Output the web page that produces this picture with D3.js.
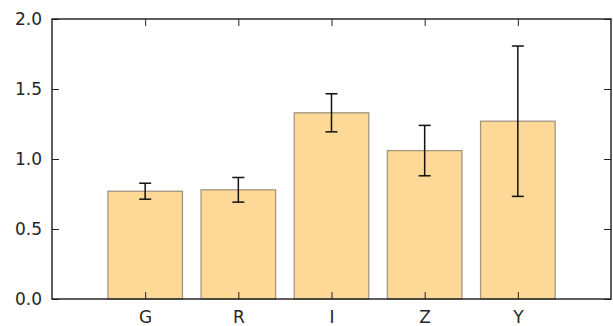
<!DOCTYPE html>
<html>
<head>
<meta charset="utf-8">
<script src="https://cdn.jsdelivr.net/npm/d3@7"></script>
<style>
  html, body { margin: 0; padding: 0; background: #fff; }
  svg { display: block; }
  text { font-family: "DejaVu Sans", sans-serif; fill: #262626; }
</style>
</head>
<body>
<svg id="chart" width="613" height="326"></svg>
<script>
// Filter bands, mean values and their error half-widths
const bands = ["G", "R", "I", "Z", "Y"];
const means = [0.77, 0.78, 1.33, 1.06, 1.27];
const errors = [0.057, 0.088, 0.136, 0.18, 0.537];
const yTicks = [0.0, 0.5, 1.0, 1.5, 2.0];

const W = 613, H = 326;
const plot = { left: 52, top: 19, right: 611, bottom: 299 };

const svg = d3.select("#chart");

// Bars sit at integer positions 0..4 on a [-1, 5] axis
const x = d3.scaleLinear().domain([-1, bands.length]).range([plot.left, plot.right]);
const y = d3.scaleLinear().domain([0, 2]).range([plot.bottom, plot.top]);
const barWidth = 0.8;

const g = svg.append("g");

// Bars
g.selectAll("rect.bar")
  .data(means)
  .enter().append("rect")
  .attr("class", "bar")
  .attr("x", (d, i) => x(i - barWidth / 2))
  .attr("width", (d, i) => x(i + barWidth / 2) - x(i - barWidth / 2))
  .attr("y", d => y(d))
  .attr("height", d => y(0) - y(d))
  .attr("fill", "#fdd897")
  .attr("stroke", "#a39680")
  .attr("stroke-width", 1.3);

// Error bars
const capHalf = 6;
const eb = g.selectAll("g.err")
  .data(means.map((m, i) => ({ m, e: errors[i], i })))
  .enter().append("g").attr("class", "err")
  .attr("stroke", "#111")
  .attr("stroke-width", 1.5);
eb.append("line")
  .attr("x1", d => x(d.i)).attr("x2", d => x(d.i))
  .attr("y1", d => y(d.m - d.e)).attr("y2", d => y(d.m + d.e));
eb.append("line")
  .attr("x1", d => x(d.i) - capHalf).attr("x2", d => x(d.i) + capHalf)
  .attr("y1", d => y(d.m + d.e)).attr("y2", d => y(d.m + d.e));
eb.append("line")
  .attr("x1", d => x(d.i) - capHalf).attr("x2", d => x(d.i) + capHalf)
  .attr("y1", d => y(d.m - d.e)).attr("y2", d => y(d.m - d.e));

// Axes with inward ticks on all four sides
const tickLen = 7;
const fmt = d3.format(".1f");
const xAxisB = d3.axisBottom(x).tickValues(d3.range(bands.length))
  .tickFormat(i => bands[i]).tickSizeInner(-tickLen).tickSizeOuter(0).tickPadding(12);
const xAxisT = d3.axisTop(x).tickValues(d3.range(bands.length))
  .tickFormat("").tickSizeInner(-tickLen).tickSizeOuter(0);
const yAxisL = d3.axisLeft(y).tickValues(yTicks)
  .tickFormat(fmt).tickSizeInner(-tickLen).tickSizeOuter(0).tickPadding(10);
const yAxisR = d3.axisRight(y).tickValues(yTicks)
  .tickFormat("").tickSizeInner(-tickLen).tickSizeOuter(0);

function style(sel) {
  sel.select(".domain").remove();
  sel.selectAll(".tick line").attr("stroke", "#222").attr("stroke-width", 1);
  sel.selectAll(".tick text").style("font-size", "17px").attr("fill", "#262626");
}

svg.append("g").attr("transform", `translate(0,${plot.bottom})`).call(xAxisB).call(style);
svg.append("g").attr("transform", `translate(0,${plot.top})`).call(xAxisT).call(style);
svg.append("g").attr("transform", `translate(${plot.left},0)`).call(yAxisL).call(style);
svg.append("g").attr("transform", `translate(${plot.right},0)`).call(yAxisR).call(style);

// Frame
svg.append("rect")
  .attr("x", plot.left).attr("y", plot.top)
  .attr("width", plot.right - plot.left).attr("height", plot.bottom - plot.top)
  .attr("fill", "none").attr("stroke", "#1a1a1a").attr("stroke-width", 1.4);
</script>
</body>
</html>
